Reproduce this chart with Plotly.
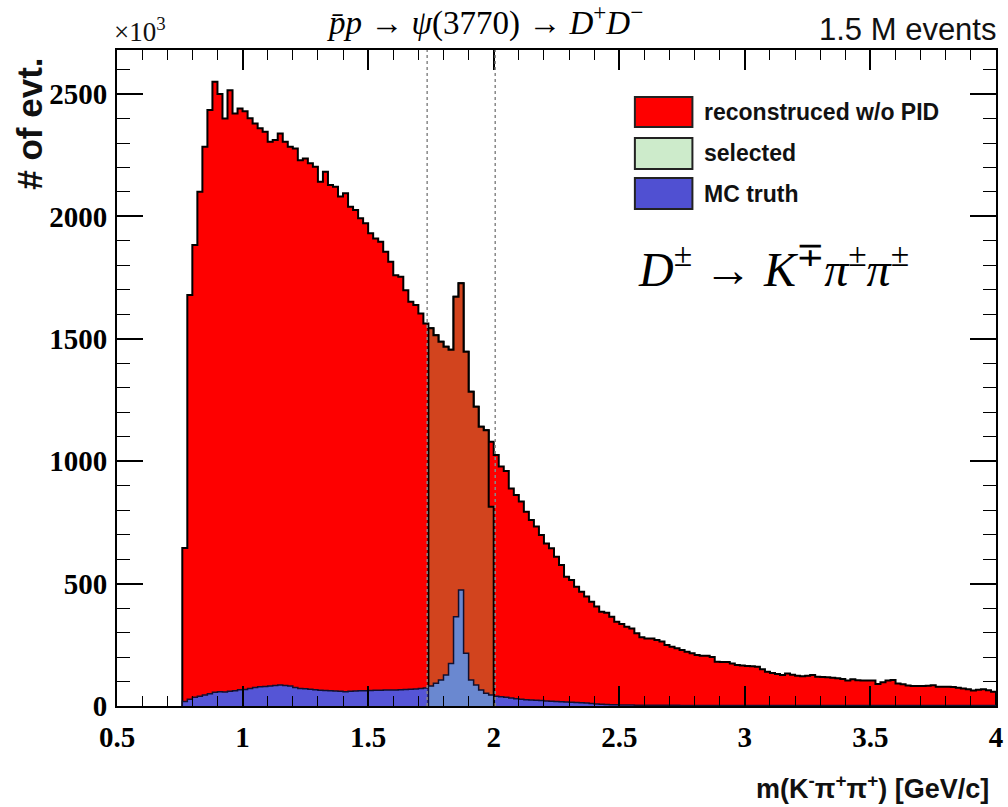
import numpy as np
import plotly.graph_objects as go

# ---------------- data ----------------
BIN_START = 0.76      # GeV/c^2, low edge of first filled bin
BIN_WIDTH = 0.02      # GeV/c^2

# "reconstruced w/o PID" (x10^3 entries / bin)
RECO_LOW = [645, 1679, 1883, 2101, 2285, 2435, 2550, 2500, 2400, 2516,
            2421, 2441, 2430, 2401, 2380, 2360, 2346, 2305, 2312, 2339,
            2305, 2285, 2278, 2230, 2237, 2217, 2203, 2142, 2183, 2128,
            2121, 2081, 2095, 2040, 2026, 1993, 1972, 1931, 1910, 1897,
            1856, 1815, 1760, 1754, 1699, 1652, 1638, 1604, 1563]
RECO_WINDOW = [1543, 1515, 1488, 1468, 1455, 1672, 1727, 1447, 1284, 1223,
               1141, 1127, 1080]
RECO_HIGH = [1025, 978, 960, 889, 862, 835, 794, 760, 733, 699,
             664, 644, 610, 576, 528, 515, 487, 467, 447, 426,
             406, 385, 381, 365, 344, 335, 324, 317, 297, 281,
             276, 276, 270, 263, 249, 242, 236, 229, 222, 215,
             208, 205, 205, 200, 181, 180, 180, 174, 168, 165,
             163, 162, 160, 150, 140, 135, 131, 127, 133, 128,
             124, 122, 124, 127, 120, 118, 117, 115, 113, 110,
             104, 109, 105, 104, 104, 104, 90, 97, 104, 106,
             92, 89, 84, 82, 82, 82, 83, 85, 79, 79,
             79, 78, 75, 72, 68, 63, 66, 68, 64, 58]

# "selected" (mass window)
SELECTED = [1543, 1515, 1488, 1468, 1455, 1672, 1727, 1447, 1284, 1223,
            1141, 1127, 814]

# "MC truth"
MC_LOW = [18, 28, 36, 40, 45, 50, 56, 58, 57, 60,
          62, 66, 67, 72, 76, 79, 80, 82, 84, 86,
          84, 82, 76, 72, 70, 68, 66, 64, 63, 62,
          61, 60, 58, 60, 61, 62, 62, 63, 64, 64,
          65, 65, 65, 66, 67, 68, 69, 71, 74]
MC_WINDOW = [82, 93, 106, 127, 174, 365, 474, 215, 106, 86, 65, 52, 45]
MC_HIGH = [40, 38, 36, 33, 30, 28, 26, 25, 24, 22,
           20, 19, 18, 17, 16, 15, 14, 13, 12, 10,
           8, 7, 6, 5, 5, 4, 4, 4, 3, 3,
           3, 3, 3, 3, 3, 3, 3, 2, 2, 2,
           2, 2, 2, 2, 2, 2, 2, 2, 2, 2,
           2, 2, 2, 2, 2, 2, 2, 2, 2, 2,
           2, 2, 2, 2, 2, 2, 2, 2, 2, 2,
           2, 2, 2, 2, 2, 2, 2, 2, 2, 2,
           2, 2, 2, 2, 2, 2, 2, 2, 2, 2,
           2, 2, 2, 2, 2, 2, 2, 2, 2, 2]

CUT_LO, CUT_HI = 1.735, 2.006

X_RANGE = [0.5, 4.0]
Y_RANGE = [0, 2680]
X_TICKS = [0.5, 1, 1.5, 2, 2.5, 3, 3.5, 4]
X_TICK_TEXT = ["0.5", "1", "1.5", "2", "2.5", "3", "3.5", "4"]
Y_TICKS = [0, 500, 1000, 1500, 2000, 2500]
Y_TICK_TEXT = ["0", "500", "1000", "1500", "2000", "2500"]

LEGEND_LABELS = ["reconstruced w/o PID", "selected", "MC truth"]

# ---------------- styling ----------------
W, H = 1008, 807
PL, PR, PT, PB = 117, 1003, 50, 706   # plot-area pixel box
RED = "#FE0000"
SEL_FILL = "#D2441E"
MC_FILL = "#5555D6"
MC_SEL_FILL = "#6A88D0"
LEG_COLORS = [RED, "#CDEBCB", "#5050D2"]
SERIF = "Liberation Serif, Times New Roman, serif"
SANS = "Liberation Sans, Arial, sans-serif"


def px(xp):
    return (xp - PL) / (PR - PL)


def py(yp):
    return (PB - yp) / (PB - PT)


def step_xy(start, vals):
    edges = start + BIN_WIDTH * np.arange(len(vals) + 1)
    xs = [edges[0]] + list(edges) + [edges[-1]]
    ys = [0] + list(vals) + [vals[-1], 0]
    return xs, ys


reco_all = RECO_LOW + RECO_WINDOW + RECO_HIGH
win_start = BIN_START + BIN_WIDTH * len(RECO_LOW)
high_start = win_start + BIN_WIDTH * len(RECO_WINDOW)

fig = go.Figure()


def add_hist(start, vals, fill, lw, lc):
    xs, ys = step_xy(start, vals)
    fig.add_trace(go.Scatter(x=xs, y=ys, mode="lines", line_shape="hv",
                             fill="toself", fillcolor=fill,
                             line=dict(color=lc, width=lw),
                             hoverinfo="skip", showlegend=False))


add_hist(BIN_START, reco_all, RED, 2, "black")
add_hist(win_start, SELECTED, SEL_FILL, 2, "black")
add_hist(BIN_START, MC_LOW, MC_FILL, 1.5, "#101030")
add_hist(win_start, MC_WINDOW, MC_SEL_FILL, 1.5, "#101030")
add_hist(high_start, MC_HIGH, MC_FILL, 1.5, "#101030")

shapes = []
for c in (CUT_LO, CUT_HI):
    shapes.append(dict(type="line", xref="x", yref="paper", x0=c, x1=c,
                       y0=0, y1=1, line=dict(color="#888888", width=1.5, dash="dot"),
                       layer="above"))

# legend boxes
leg_rows = [(97, 127), (138, 169), (178, 209)]
annotations = []
for (y0, y1), col, lab in zip(leg_rows, LEG_COLORS, LEGEND_LABELS):
    shapes.append(dict(type="rect", xref="paper", yref="paper",
                       x0=px(639), x1=px(697), y0=py(y1), y1=py(y0),
                       fillcolor=col, line=dict(color="#222222", width=2), layer="above"))
    annotations.append(dict(xref="paper", yref="paper", x=px(707), y=py((y0 + y1) / 2),
                            xanchor="left", yanchor="middle", text=lab, showarrow=False,
                            font=dict(family=SANS, size=23, color="#111111", weight="bold")))

annotations += [
    dict(xref="paper", yref="paper", x=px(488), y=py(20), xanchor="center", yanchor="middle",
         text="<i>p\u0304p</i> \u2192 <i>\u03c8</i>(3770) \u2192 <i>D</i><sup>+</sup><i>D</i><sup>\u2212</sup>",
         showarrow=False, font=dict(family=SERIF, size=33, color="black")),
    dict(xref="paper", yref="paper", x=px(1005), y=py(30), xanchor="right", yanchor="middle",
         text="1.5 M events", showarrow=False,
         font=dict(family=SANS, size=31, color="#111111")),
    dict(xref="paper", yref="paper", x=px(112), y=py(30), xanchor="left", yanchor="middle",
         text="\u00d710<sup>3</sup>", showarrow=False,
         font=dict(family=SERIF, size=27, color="#111111")),
    dict(xref="paper", yref="paper", x=px(28), y=py(124), xanchor="center", yanchor="middle",
         text="# of evt.", textangle=-90, showarrow=False,
         font=dict(family=SANS, size=35, color="#111111", weight="bold")),
    dict(xref="paper", yref="paper", x=px(998), y=py(787), xanchor="right", yanchor="middle",
         text="m(K<sup>-</sup>\u03c0<sup>+</sup>\u03c0<sup>+</sup>) [GeV/c]", showarrow=False,
         font=dict(family=SANS, size=27, color="#111111", weight="bold")),
    dict(xref="paper", yref="paper", x=px(640), y=py(266), xanchor="left", yanchor="middle",
         text="<i>D</i><sup>\u00b1</sup> \u2192 <i>K</i><sup>\u2213</sup><i>\u03c0</i><sup>\u00b1</sup><i>\u03c0</i><sup>\u00b1</sup>",
         showarrow=False, font=dict(family=SERIF, size=48, color="black")),
]

axis_common = dict(showline=True, linecolor="black", linewidth=2, mirror="allticks",
                   ticks="inside", tickcolor="black", showgrid=False, zeroline=False,
                   ticklabeloverflow="allow",
                   tickfont=dict(family=SERIF, size=29, color="black", weight="bold"))

fig.update_layout(
    width=W, height=H,
    margin=dict(l=PL, r=W - PR, t=PT, b=H - PB, pad=0),
    paper_bgcolor="white", plot_bgcolor="white",
    showlegend=False,
    shapes=shapes, annotations=annotations,
    xaxis=dict(range=X_RANGE, tickvals=X_TICKS, ticktext=X_TICK_TEXT,
               ticklen=20, tickwidth=1.5, ticklabelstandoff=4,
               minor=dict(ticks="inside", dtick=0.1, ticklen=10, tickwidth=1.2,
                          tickcolor="black", showgrid=False),
               **axis_common),
    yaxis=dict(range=Y_RANGE, tickvals=Y_TICKS, ticktext=Y_TICK_TEXT,
               ticklen=26, tickwidth=1.5, ticklabelstandoff=2,
               minor=dict(ticks="inside", dtick=100, ticklen=13, tickwidth=1.2,
                          tickcolor="black", showgrid=False),
               **axis_common),
)

fig.write_html("out.html")
